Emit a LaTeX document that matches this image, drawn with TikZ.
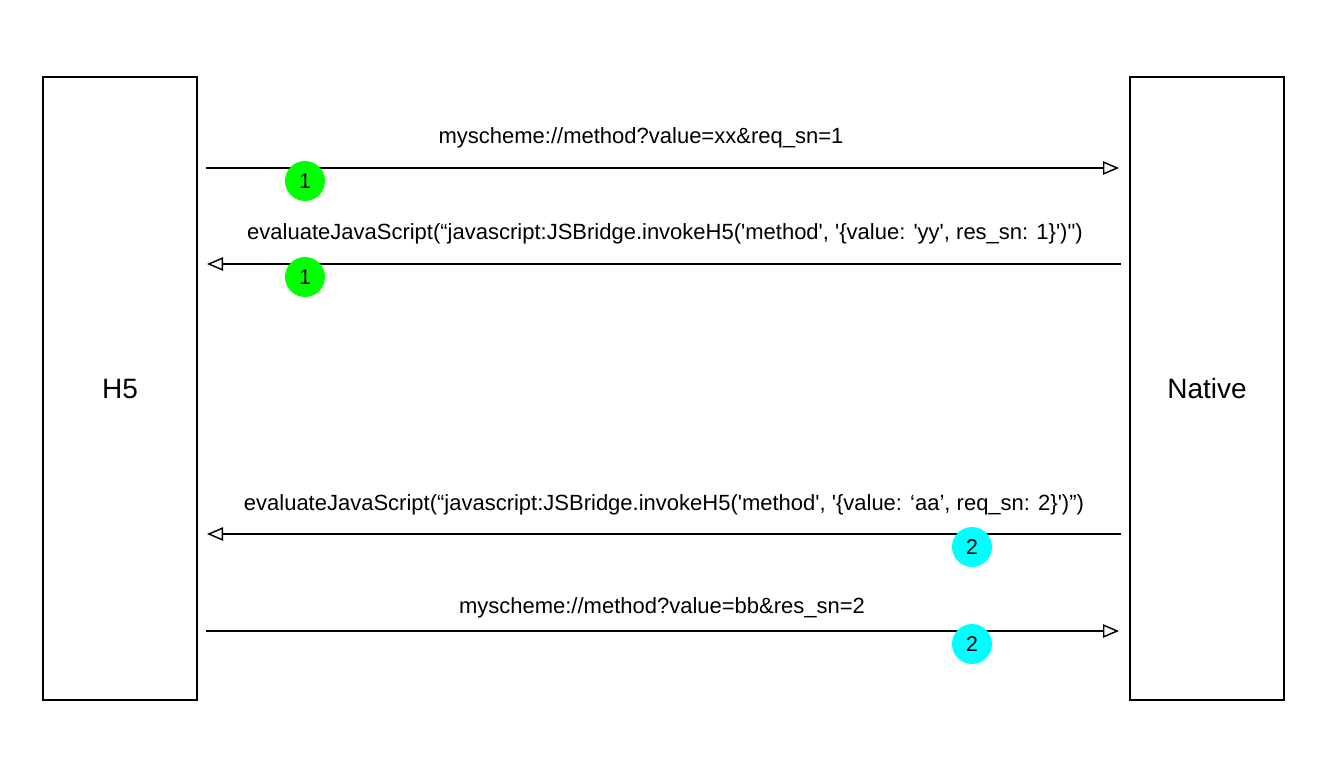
\documentclass[tikz,border=0pt]{standalone}
\usepackage{fontspec}
\setmainfont{Liberation Sans}
\usetikzlibrary{arrows.meta}
\newcommand\sq{\textquotesingle}
\newcommand\dq{\textquotedbl}
\tikzset{
  actor/.style={draw=black, line width=1.1pt, minimum width=154*0.75pt, minimum height=623*0.75pt, inner sep=0pt, font=\fontsize{21}{25}\selectfont},
  msg/.style={line width=1.1pt, -{Triangle[open, length=12pt, width=10pt, fill=white]}},
  lbl/.style={inner sep=0pt, font=\fontsize{16.5}{20}\selectfont},
  badge/.style={circle, minimum size=40*0.75pt, inner sep=0pt, font=\fontsize{16}{19}\selectfont},
  one/.style={badge, fill={rgb,255:red,0;green,255;blue,0}},
  two/.style={badge, fill={rgb,255:red,0;green,255;blue,255}}
}
\begin{document}
\begin{tikzpicture}[x=0.75pt, y=-0.75pt]
\useasboundingbox (0,0) rectangle (1344,764);
\node[actor] (h5) at (120,388.5) {H5};
\node[actor] (native) at (1207,388.5) {Native};

\coordinate (a1s) at (206,168); \coordinate (a1e) at (1119,168);
\coordinate (a2s) at (1121,264); \coordinate (a2e) at (207,264);
\coordinate (a3s) at (1121,534); \coordinate (a3e) at (207,534);
\coordinate (a4s) at (206,631); \coordinate (a4e) at (1119,631);

\draw[msg] (a1s) -- (a1e);
\draw[msg] (a2s) -- (a2e);
\draw[msg] (a3s) -- (a3e);
\draw[msg] (a4s) -- (a4e);

\node[lbl] (l1) at (641,138) {myscheme://method?value=xx\&req\_sn=1};
\node[lbl] (l2) at (665,234) {evaluateJavaScript(“javascript:JSBridge.invokeH5(\sq method\sq, \sq\{value: \sq yy\sq, res\_sn: 1\}\sq)\dq)};
\node[lbl] (l3) at (664,505) {evaluateJavaScript(“javascript:JSBridge.invokeH5(\sq method\sq, \sq\{value: ‘aa’, req\_sn: 2\}\sq)”)};
\node[lbl] (l4) at (662,608) {myscheme://method?value=bb\&res\_sn=2};

\node[one] (b1) at (305,181) {1};
\node[one] (b2) at (305,277) {1};
\node[two] (b3) at (972,547) {2};
\node[two] (b4) at (972,644) {2};
\end{tikzpicture}
\end{document}
